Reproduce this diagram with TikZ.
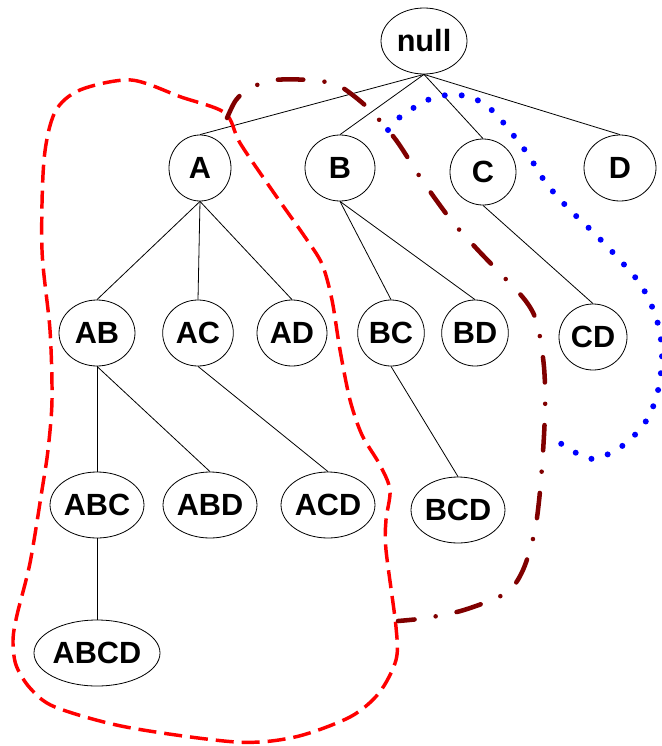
\documentclass[tikz,border=0pt]{standalone}
\usepackage{fontspec}
\setmainfont{Liberation Sans}
\usepackage{tikz}
\usetikzlibrary{shapes.geometric}

\definecolor{maroonline}{RGB}{128,0,0}

\begin{document}
\begin{tikzpicture}[x=0.75pt,y=0.75pt,yscale=-1,xscale=1,
  iset/.style={draw,ellipse,line width=0.6pt,inner sep=0pt,minimum height=49.5pt,
    font=\bfseries\fontsize{23}{27}\selectfont},
  link/.style={line width=0.6pt},
  redloop/.style={red,line width=2.6pt,dash pattern=on 13.5pt off 6pt},
  maroonpath/.style={maroonline,line width=3.4pt,line cap=round,
    dash pattern=on 19pt off 16pt on 0pt off 16pt},
  bluepath/.style={blue,line width=4.5pt,line cap=round,dash pattern=on 0pt off 12.75pt}]
\useasboundingbox (0,0) rectangle (661,746);

% Text Node
\node[iset,minimum width=64.5pt] (null) at (424,41) {null};
% Text Node
\node[iset,minimum width=46.5pt] (A) at (200,168) {A};
\node[iset,minimum width=52.5pt] (B) at (340,168) {B};
\node[iset,minimum width=49.5pt] (C) at (483,172) {C};
\node[iset,minimum width=54pt] (D) at (620,168) {D};
% Text Node
\node[iset,minimum width=57pt] (AB) at (97,333) {AB};
\node[iset,minimum width=53pt] (AC) at (198,333) {AC};
\node[iset,minimum width=52.5pt] (AD) at (292,333) {AD};
\node[iset,minimum width=50pt] (BC) at (391,333) {BC};
\node[iset,minimum width=50pt] (BD) at (475,333) {BD};
\node[iset,minimum width=51pt] (CD) at (593,337) {CD};
% Text Node
\node[iset,minimum width=69pt] (ABC) at (97,505) {ABC};
\node[iset,minimum width=69pt] (ABD) at (210,505) {ABD};
\node[iset,minimum width=69pt] (ACD) at (328,505) {ACD};
\node[iset,minimum width=69pt] (BCD) at (458,510) {BCD};
% Text Node
\node[iset,minimum width=94.5pt] (ABCD) at (97,653) {ABCD};

% Connection
\draw[link] (null.south) -- (A.north);
\draw[link] (null.south) -- (B.north);
\draw[link] (null.south) -- (C.north);
\draw[link] (null.south) -- (D.north);
% Connection
\draw[link] (A.south) -- (AB.north);
\draw[link] (A.south) -- (AC.north);
\draw[link] (A.south) -- (AD.north);
\draw[link] (B.south) -- (BC.north);
\draw[link] (B.south) -- (BD.north);
\draw[link] (C.south) -- (CD.north);
% Connection
\draw[link] (AB.south) -- (ABC.north);
\draw[link] (AB.south) -- (ABD.north);
\draw[link] (AC.south) -- (ACD.north);
\draw[link] (BC.south) -- (BCD.north);
\draw[link] (ABC.south) -- (ABCD.north);

%Shape: red dashed loop
\draw[redloop] plot[smooth cycle] coordinates {(131,80) (181,97) (225,113) (240,143)
  (274,193) (305,237) (322,264) (332,300) (340,350) (350,400) (362,435) (380,465)
  (390,490) (386,520) (386,550) (396,627) (396,660) (379,693) (350,717) (295,737)
  (236,742) (126,727) (55,707) (30,688) (16,665) (13,640) (17,615) (30,563) (42,490)
  (48,450) (52,400) (50,330) (42,250) (44,160) (55,112) (80,90)};
%Shape: maroon dash-dot curve
\draw[maroonpath] plot[smooth] coordinates {(227,118) (236,100) (250,88) (275,80)
  (310,80) (335,84) (350,93) (370,110) (396,140) (422,180) (451,220) (476,248)
  (497,270) (525,300) (537,323) (544,367) (545,413) (541,480) (535,530) (523,570)
  (506,593) (464,610) (426,618) (398,621)};
%Shape: blue dotted curve
\draw[bluepath] plot[smooth] coordinates {(388,130) (400,117) (415,107) (430,99)
  (447,95) (466,96) (481,102) (495,113) (506,126) (527,153) (546,183) (569,209)
  (594,233) (618,258) (641,285) (656,317) (662,350) (659,386) (648,418) (625,444)
  (593,459) (563,445) (550,433)};

\end{tikzpicture}
\end{document}
